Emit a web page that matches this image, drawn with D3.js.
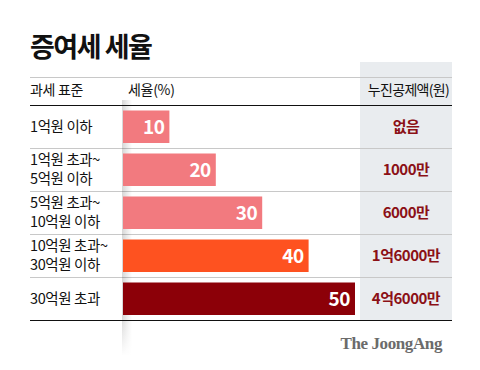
<!DOCTYPE html>
<html><head><meta charset="utf-8">
<script src="https://cdn.jsdelivr.net/npm/d3@7"></script>
<style>body{margin:0;background:#fff}svg{display:block}text{font-family:"Noto Sans CJK KR","Noto Sans",sans-serif}</style>
</head><body>
<script>
const title = "증여세 세율";
const headers = ["과세 표준", "세율(%)", "누진공제액(원)"];
const brackets = [["1억원 이하"], ["1억원 초과~", "5억원 이하"], ["5억원 초과~", "10억원 이하"], ["10억원 초과~", "30억원 이하"], ["30억원 초과"]];
const rates = [10, 20, 30, 40, 50];
const deductions = ["없음", "1000만", "6000만", "1억6000만", "4억6000만"];
const barColors = ["#f27a7f", "#f27a7f", "#f27a7f", "#fe5220", "#8c0008"];
const source = "The JoongAng";

const W = 480, H = 370;
const svg = d3.select("body").append("svg").attr("width", W).attr("height", H);
const defs = svg.append("defs");
const g1 = defs.append("linearGradient").attr("id", "sh").attr("x1", 0).attr("x2", 1).attr("y1", 0).attr("y2", 0);
g1.append("stop").attr("offset", 0).attr("stop-color", "#000").attr("stop-opacity", 0.16);
g1.append("stop").attr("offset", 1).attr("stop-color", "#000").attr("stop-opacity", 0);
const g2 = defs.append("linearGradient").attr("id", "fade").attr("x1", 0).attr("x2", 0).attr("y1", 0).attr("y2", 1);
g2.append("stop").attr("offset", 0).attr("stop-color", "#fff").attr("stop-opacity", 0);
g2.append("stop").attr("offset", 1).attr("stop-color", "#fff").attr("stop-opacity", 1);

const L = 30, R = 452;
const x = d3.scaleLinear().domain([0, 50]).range([123, 355]);
const y = d3.scaleBand().domain(d3.range(rates.length)).range([105, 320]).paddingInner(0);

// title
svg.append("text").attr("x", L).attr("y", 57).attr("font-size", 27).attr("font-weight", 700)
  .attr("letter-spacing", -1.5).attr("fill", "#111").text(title);

// gray column
svg.append("rect").attr("x", 360).attr("y", 62).attr("width", R - 360).attr("height", 320 - 62).attr("fill", "#e9ecef");

// lines
svg.append("line").attr("x1", L).attr("x2", R).attr("y1", 77.5).attr("y2", 77.5).attr("stroke", "#c8c8c8");
rates.forEach((d, i) => {
  if (i > 0) svg.append("line").attr("x1", L).attr("x2", R).attr("y1", y(i) + 0.5).attr("y2", y(i) + 0.5).attr("stroke", "#c8c8c8");
});

// headers
svg.append("text").attr("x", L).attr("y", 95).attr("font-size", 14).attr("fill", "#111").attr("letter-spacing", -0.3).text(headers[0]);
svg.append("text").attr("x", 128).attr("y", 95).attr("font-size", 14).attr("fill", "#111").attr("letter-spacing", -0.3).text(headers[1]);
svg.append("text").attr("x", 449).attr("y", 95).attr("font-size", 14).attr("fill", "#111").attr("text-anchor", "end").attr("letter-spacing", -0.7).text(headers[2]);

// shadow
svg.append("rect").attr("x", 122).attr("y", 100).attr("width", 10).attr("height", 255).attr("fill", "url(#sh)");
svg.append("rect").attr("x", 118).attr("y", 315).attr("width", 18).attr("height", 41).attr("fill", "url(#fade)");

// bars
svg.selectAll("rect.bar").data(rates).join("rect").attr("class", "bar")
  .attr("x", x(0)).attr("y", (d, i) => y(i) + 5.5).attr("width", d => x(d) - x(0))
  .attr("height", y.bandwidth() - 10.5).attr("fill", (d, i) => barColors[i]);
svg.selectAll("text.val").data(rates).join("text").attr("class", "val")
  .attr("x", d => x(d) - 5).attr("y", (d, i) => y(i) + y.bandwidth() / 2 + 7)
  .attr("text-anchor", "end").attr("font-size", 19).attr("font-weight", 700).attr("fill", "#fff")
  .attr("letter-spacing", -0.5).text(d => d);

// row labels
brackets.forEach((lines, i) => {
  const cy = y(i) + y.bandwidth() / 2;
  const lh = 19;
  lines.forEach((t, j) => {
    svg.append("text").attr("x", L).attr("y", cy + (j - (lines.length - 1) / 2) * lh + 5)
      .attr("font-size", 14.5).attr("fill", "#111").attr("letter-spacing", -0.4).text(t);
  });
  svg.append("text").attr("x", 406).attr("y", cy + 5.5).attr("text-anchor", "middle")
    .attr("font-size", 15).attr("font-weight", 700).attr("fill", "#8b1016").attr("letter-spacing", -0.5).text(deductions[i]);
});

// top/bottom black lines
svg.append("line").attr("x1", L).attr("x2", R).attr("y1", 105.5).attr("y2", 105.5).attr("stroke", "#111");
svg.append("line").attr("x1", L).attr("x2", R).attr("y1", 320.5).attr("y2", 320.5).attr("stroke", "#111");

// source
svg.append("text").attr("x", 442).attr("y", 349).attr("text-anchor", "end")
  .style("font-family", "'Liberation Serif','DejaVu Serif',serif").attr("font-size", 17).attr("font-weight", 700)
  .attr("fill", "#6b6b6b").attr("letter-spacing", -0.4).text(source);
</script>
</body></html>
